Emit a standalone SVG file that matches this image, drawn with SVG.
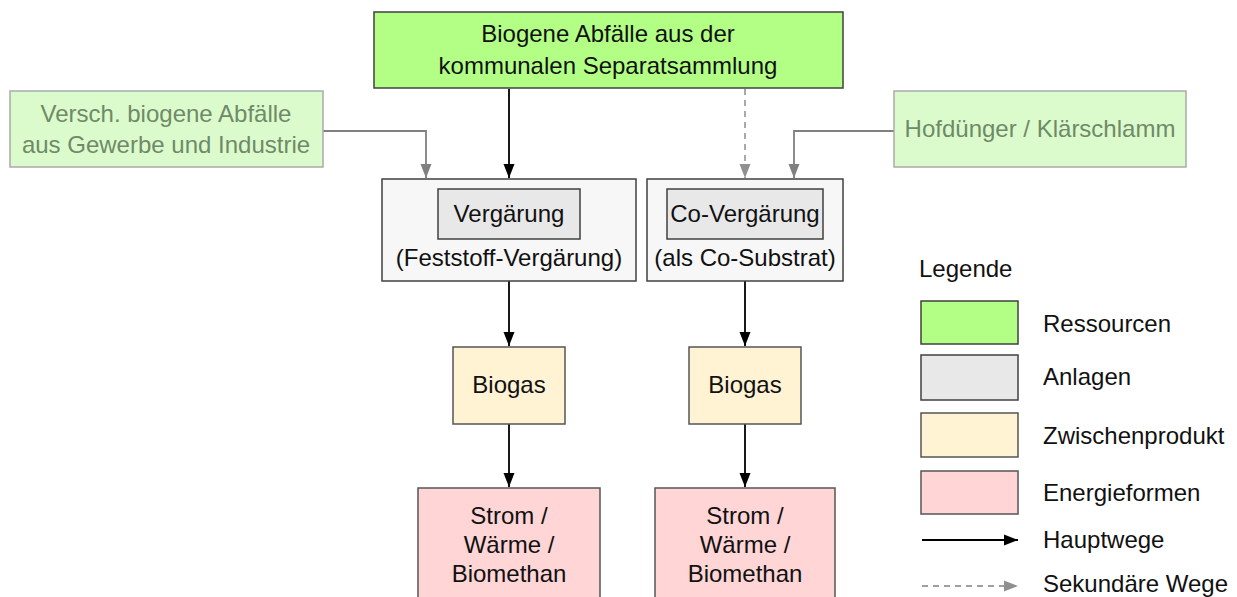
<svg xmlns="http://www.w3.org/2000/svg" width="1237" height="597" viewBox="0 0 1237 597">
<style>
text{font-family:"Liberation Sans",Arial,sans-serif;font-size:24px;fill:#111;text-anchor:middle}
.lt{fill:#6f8a68}
.lg{text-anchor:start}
.res{fill:#b3ff85;stroke:#404040;stroke-width:1.5}
.sec{fill:#dcfbcc;stroke:#aaa;stroke-width:1.5}
.outer{fill:#f7f7f7;stroke:#404040;stroke-width:1.5}
.anl{fill:#e8e8e8;stroke:#404040;stroke-width:1.5}
.zw{fill:#fff3d4;stroke:#555;stroke-width:1.5}
.en{fill:#ffd5d6;stroke:#555;stroke-width:1.5}
.main{stroke:#000;stroke-width:1.8;fill:none}
.gray{stroke:#808080;stroke-width:1.8;fill:none}
.dash{stroke:#a0a0a0;stroke-width:1.8;fill:none;stroke-dasharray:6 5}
</style>
<defs>
<marker id="ab" markerWidth="14" markerHeight="14" viewBox="0 0 14 14" refX="14" refY="7" orient="auto" markerUnits="userSpaceOnUse"><path d="M0,1.5 L14,7 L0,12.5 Z" fill="#000"/></marker>
<marker id="ag" markerWidth="14" markerHeight="14" viewBox="0 0 14 14" refX="14" refY="7" orient="auto" markerUnits="userSpaceOnUse"><path d="M0,1.5 L14,7 L0,12.5 Z" fill="#808080"/></marker>
<marker id="ad" markerWidth="14" markerHeight="14" viewBox="0 0 14 14" refX="14" refY="7" orient="auto" markerUnits="userSpaceOnUse"><path d="M0,1.5 L14,7 L0,12.5 Z" fill="#909090"/></marker>
</defs>
<g id="connectors">
<line class="main" x1="509" y1="89" x2="509" y2="178" marker-end="url(#ab)"/>
<line class="dash" x1="745" y1="89" x2="745" y2="178" marker-end="url(#ad)"/>
<polyline class="gray" points="323,131 426,131 426,178" marker-end="url(#ag)"/>
<polyline class="gray" points="894,131 794,131 794,178" marker-end="url(#ag)"/>
<line class="main" x1="509" y1="281" x2="509" y2="346" marker-end="url(#ab)"/>
<line class="main" x1="745" y1="281" x2="745" y2="346" marker-end="url(#ab)"/>
<line class="main" x1="509" y1="424" x2="509" y2="487" marker-end="url(#ab)"/>
<line class="main" x1="745" y1="424" x2="745" y2="487" marker-end="url(#ab)"/>
</g>
<g id="n-biogene">
<rect class="res" x="374" y="12" width="469" height="76"/>
<text x="608" y="42">Biogene Abfälle aus der</text>
<text x="608" y="74">kommunalen Separatsammlung</text>
</g>
<g id="n-gewerbe">
<rect class="sec" x="10" y="91" width="313" height="76"/>
<text class="lt" x="166" y="122">Versch. biogene Abfälle</text>
<text class="lt" x="166" y="153">aus Gewerbe und Industrie</text>
</g>
<g id="n-hofduenger">
<rect class="sec" x="894" y="91" width="292" height="76"/>
<text class="lt" x="1040" y="137">Hofdünger / Klärschlamm</text>
</g>
<g id="n-vergaerung">
<rect class="outer" x="382" y="179" width="254" height="102"/>
<rect class="anl" x="438" y="189" width="142" height="50"/>
<text x="509" y="222">Vergärung</text>
<text x="509" y="266">(Feststoff-Vergärung)</text>
</g>
<g id="n-covergaerung">
<rect class="outer" x="647" y="179" width="196" height="102"/>
<rect class="anl" x="667" y="189" width="156" height="50"/>
<text x="745" y="222">Co-Vergärung</text>
<text x="745" y="266">(als Co-Substrat)</text>
</g>
<g id="n-biogas1">
<rect class="zw" x="453" y="347" width="112" height="77"/>
<text x="509" y="393">Biogas</text>
</g>
<g id="n-biogas2">
<rect class="zw" x="689" y="347" width="112" height="77"/>
<text x="745" y="393">Biogas</text>
</g>
<g id="n-energie1">
<rect class="en" x="418" y="488" width="182" height="120"/>
<text x="509" y="524">Strom /</text>
<text x="509" y="553">Wärme /</text>
<text x="509" y="582">Biomethan</text>
</g>
<g id="n-energie2">
<rect class="en" x="655" y="488" width="180" height="120"/>
<text x="745" y="524">Strom /</text>
<text x="745" y="553">Wärme /</text>
<text x="745" y="582">Biomethan</text>
</g>
<g id="legend">
<text class="lg" x="919" y="277">Legende</text>
<rect class="res" x="921" y="301" width="97" height="43"/>
<text class="lg" x="1043" y="332">Ressourcen</text>
<rect class="anl" x="921" y="355" width="97" height="45"/>
<text class="lg" x="1043" y="385">Anlagen</text>
<rect class="zw" x="921" y="413" width="97" height="44"/>
<text class="lg" x="1043" y="444">Zwischenprodukt</text>
<rect class="en" x="921" y="471" width="97" height="43"/>
<text class="lg" x="1043" y="501">Energieformen</text>
<line class="main" x1="922" y1="540" x2="1018" y2="540" marker-end="url(#ab)"/>
<text class="lg" x="1043" y="548">Hauptwege</text>
<line class="dash" x1="922" y1="586" x2="1018" y2="586" marker-end="url(#ad)"/>
<text class="lg" x="1043" y="592">Sekundäre Wege</text>
</g>
</svg>
